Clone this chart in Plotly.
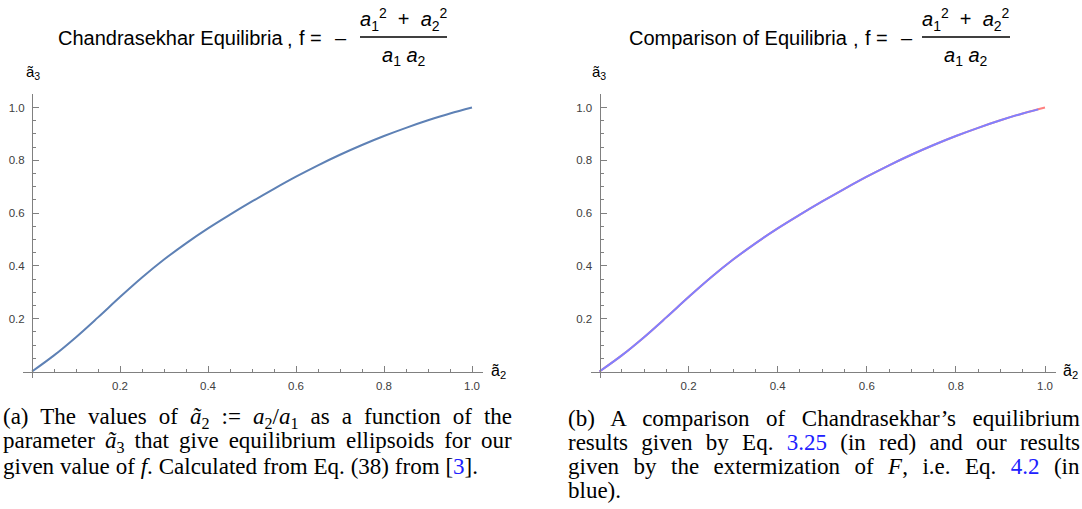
import json
import plotly.graph_objects as go

# Equilibrium curve: a3~ as a function of a2~
a2_vals = [0.0, 0.05, 0.10, 0.15, 0.20, 0.25, 0.30, 0.35, 0.40, 0.45, 0.50,
           0.55, 0.60, 0.65, 0.70, 0.75, 0.80, 0.85, 0.90, 0.95, 1.0]
a3_vals = [0.0, 0.061, 0.130, 0.205, 0.282, 0.356, 0.424, 0.4855, 0.542, 0.594, 0.644,
           0.692, 0.738, 0.781, 0.821, 0.858, 0.892, 0.923, 0.9515, 0.9775, 1.0]

# Our extremization result (blue) ends just short of a2~ = 1
blue_a2 = a2_vals[:-1] + [0.985]
blue_a3 = a3_vals[:-1] + [0.993]

major_ticks = [0.2, 0.4, 0.6, 0.8, 1.0]
major_labels = ["0.2", "0.4", "0.6", "0.8", "1.0"]
minor_ticks = [0.05, 0.10, 0.15, 0.25, 0.30, 0.35, 0.45, 0.50, 0.55,
               0.65, 0.70, 0.75, 0.85, 0.90, 0.95]

W, H = 1082, 509
AXIS_GRAY = "#808080"
LABEL_GRAY = "#404040"
SANS = "Liberation Sans, Arial, sans-serif"
SERIF = "Liberation Serif, Times New Roman, serif"


def fx(p):
    return p / W


def fy(p):
    return 1 - p / H


fig = go.Figure()
fig.add_trace(go.Scatter(x=a2_vals, y=a3_vals, xaxis="x", yaxis="y", mode="lines",
                         line=dict(color="#5E81B5", width=2, shape="spline"),
                         hoverinfo="skip"))
fig.add_trace(go.Scatter(x=a2_vals, y=a3_vals, xaxis="x2", yaxis="y2", mode="lines",
                         line=dict(color="rgb(255,128,128)", width=2, shape="spline"),
                         hoverinfo="skip"))
fig.add_trace(go.Scatter(x=blue_a2, y=blue_a3, xaxis="x2", yaxis="y2", mode="lines",
                         line=dict(color="rgb(128,128,255)", width=2, shape="spline"),
                         hoverinfo="skip"))


def xaxis_cfg(px0, px1, y0px):
    per = (px1 - px0)
    lo, hi = -0.02, 1.024
    return dict(domain=[fx(px0 + lo * per), fx(px0 + hi * per)], range=[lo, hi],
                anchor="free", position=fy(y0px), showline=True, linecolor=AXIS_GRAY,
                linewidth=1, ticks="inside", ticklen=6, tickwidth=1, tickcolor=AXIS_GRAY,
                tickmode="array", tickvals=major_ticks, ticktext=major_labels,
                tickfont=dict(family=SANS, size=11.5, color=LABEL_GRAY),
                ticklabelstandoff=4,
                minor=dict(tickmode="array", tickvals=minor_ticks, ticks="inside",
                           ticklen=3, tickcolor=AXIS_GRAY, showgrid=False),
                showgrid=False, zeroline=False, fixedrange=True)


def yaxis_cfg(py0, py1, x0px):
    per = (py0 - py1)
    lo, hi = -0.025, 1.05
    return dict(domain=[fy(py0 - lo * per), fy(py0 - hi * per)], range=[lo, hi],
                anchor="free", position=fx(x0px), showline=True, linecolor=AXIS_GRAY,
                linewidth=1, ticks="inside", ticklen=6, tickwidth=1, tickcolor=AXIS_GRAY,
                tickmode="array", tickvals=major_ticks, ticktext=major_labels,
                tickfont=dict(family=SANS, size=11.5, color=LABEL_GRAY),
                ticklabelstandoff=5,
                minor=dict(tickmode="array", tickvals=minor_ticks, ticks="inside",
                           ticklen=3, tickcolor=AXIS_GRAY, showgrid=False),
                showgrid=False, zeroline=False, fixedrange=True)


# panel geometry in pixels: origin and the 1.0 positions
L_X0, L_X1 = 32, 472
R_X0, R_X1 = 599.5, 1045
Y0, Y1 = 371.5, 107.5

fig.update_layout(
    width=W, height=H, margin=dict(l=0, r=0, t=0, b=0),
    paper_bgcolor="white", plot_bgcolor="white", showlegend=False,
    xaxis=xaxis_cfg(L_X0, L_X1, Y0),
    yaxis=yaxis_cfg(Y0, Y1, L_X0),
    xaxis2=xaxis_cfg(R_X0, R_X1, Y0),
    yaxis2=yaxis_cfg(Y0, Y1, R_X0),
)

ann = []
shapes = []
justify = {}  # annotation index -> target line width in px


def text(x, y, s, size, family=SANS, color="black", xanchor="left", yanchor="middle"):
    ann.append(dict(x=fx(x), y=fy(y), xref="paper", yref="paper", text=s,
                    showarrow=False, xanchor=xanchor, yanchor=yanchor,
                    font=dict(family=family, size=size, color=color), align="left"))
    return len(ann) - 1


numer = "<i>a</i><sub>1</sub><sup>2</sup>  +  <i>a</i><sub>2</sub><sup>2</sup>"
denom = "<i>a</i><sub>1</sub> <i>a</i><sub>2</sub>"


def title(x_left, label, word_end, frac_x0, frac_x1):
    text(x_left, 38, label, 20)
    text(word_end + 7, 39, ",", 20, xanchor="center")
    text(word_end + 19, 38, "f", 20, xanchor="center")
    text(word_end + 33, 38, "=", 20, xanchor="center")
    text(word_end + 58, 38, "\u2013", 20, xanchor="center")
    cx = (frac_x0 + frac_x1) / 2
    text(cx, 20, numer, 20, xanchor="center")
    text(cx, 57, denom, 20, xanchor="center")
    shapes.append(dict(type="line", xref="paper", yref="paper",
                       x0=fx(frac_x0), x1=fx(frac_x1), y0=fy(37), y1=fy(37),
                       line=dict(color="black", width=1.5)))


title(56, "Chandrasekhar Equilibria", 283, 360, 447)
title(627, "Comparison of Equilibria", 849, 922, 1010)

# axis labels
for x_lab_px in [L_X0 + 1, R_X0 - 1]:
    text(x_lab_px, 72, "ã<sub>3</sub>", 15, xanchor="center")
for x_lab_px in [L_X1 + 17, R_X1 + 16]:
    text(x_lab_px, Y0, "ã<sub>2</sub>", 16)

# captions
BLUE = "#2020ff"
cap_a = [
    "(a) The values of <i>ã</i><sub>2</sub> := <i>a</i><sub>2</sub>/<i>a</i><sub>1</sub> as a function of the",
    "parameter <i>ã</i><sub>3</sub> that give equilibrium ellipsoids for our",
    f"given value of <i>f</i>. Calculated from Eq. (38) from [<span style='color:{BLUE}'>3</span>].",
]
cap_a_right = [510, 510, 476]
cap_b = [
    "(b) A comparison of Chandrasekhar’s equilibrium",
    f"results given by Eq. <span style='color:{BLUE}'>3.25</span> (in red) and our results",
    f"given by the extermization of <i>F</i>, i.e. Eq. <span style='color:{BLUE}'>4.2</span> (in",
    "blue).",
]
cap_b_right = [1078, 1078, 1078, 622]

for i, (line, right) in enumerate(zip(cap_a, cap_a_right)):
    idx = text(1, 418 + 24 * i, line, 23, family=SERIF)
    justify[idx] = right - 1
for i, (line, right) in enumerate(zip(cap_b, cap_b_right)):
    idx = text(566, 418 + 24 * i, line, 23, family=SERIF)
    justify[idx] = right - 566

fig.update_layout(annotations=ann, shapes=shapes)

# spread the words of each caption line so it fills its column (justified text)
post_js = """
var gd = document.getElementById('{plot_id}');
var targets = %s;
function justifyCaptions() {
  var groups = gd.querySelectorAll('g.annotation');
  groups.forEach(function(g) {
    var idx = g.getAttribute('data-index');
    if (!(idx in targets)) return;
    var t = g.querySelector('text.annotation-text');
    if (!t) return;
    t.style.wordSpacing = '0px';
    var spaces = (t.textContent.match(/ /g) || []).length;
    if (!spaces) return;
    var w = t.getBBox().width;
    var extra = (targets[idx] - w) / spaces;
    t.style.wordSpacing = extra.toFixed(2) + 'px';
  });
}
justifyCaptions();
setTimeout(justifyCaptions, 50);
""" % json.dumps({str(k): v for k, v in justify.items()})

fig.write_html("out.html", post_script=post_js)
